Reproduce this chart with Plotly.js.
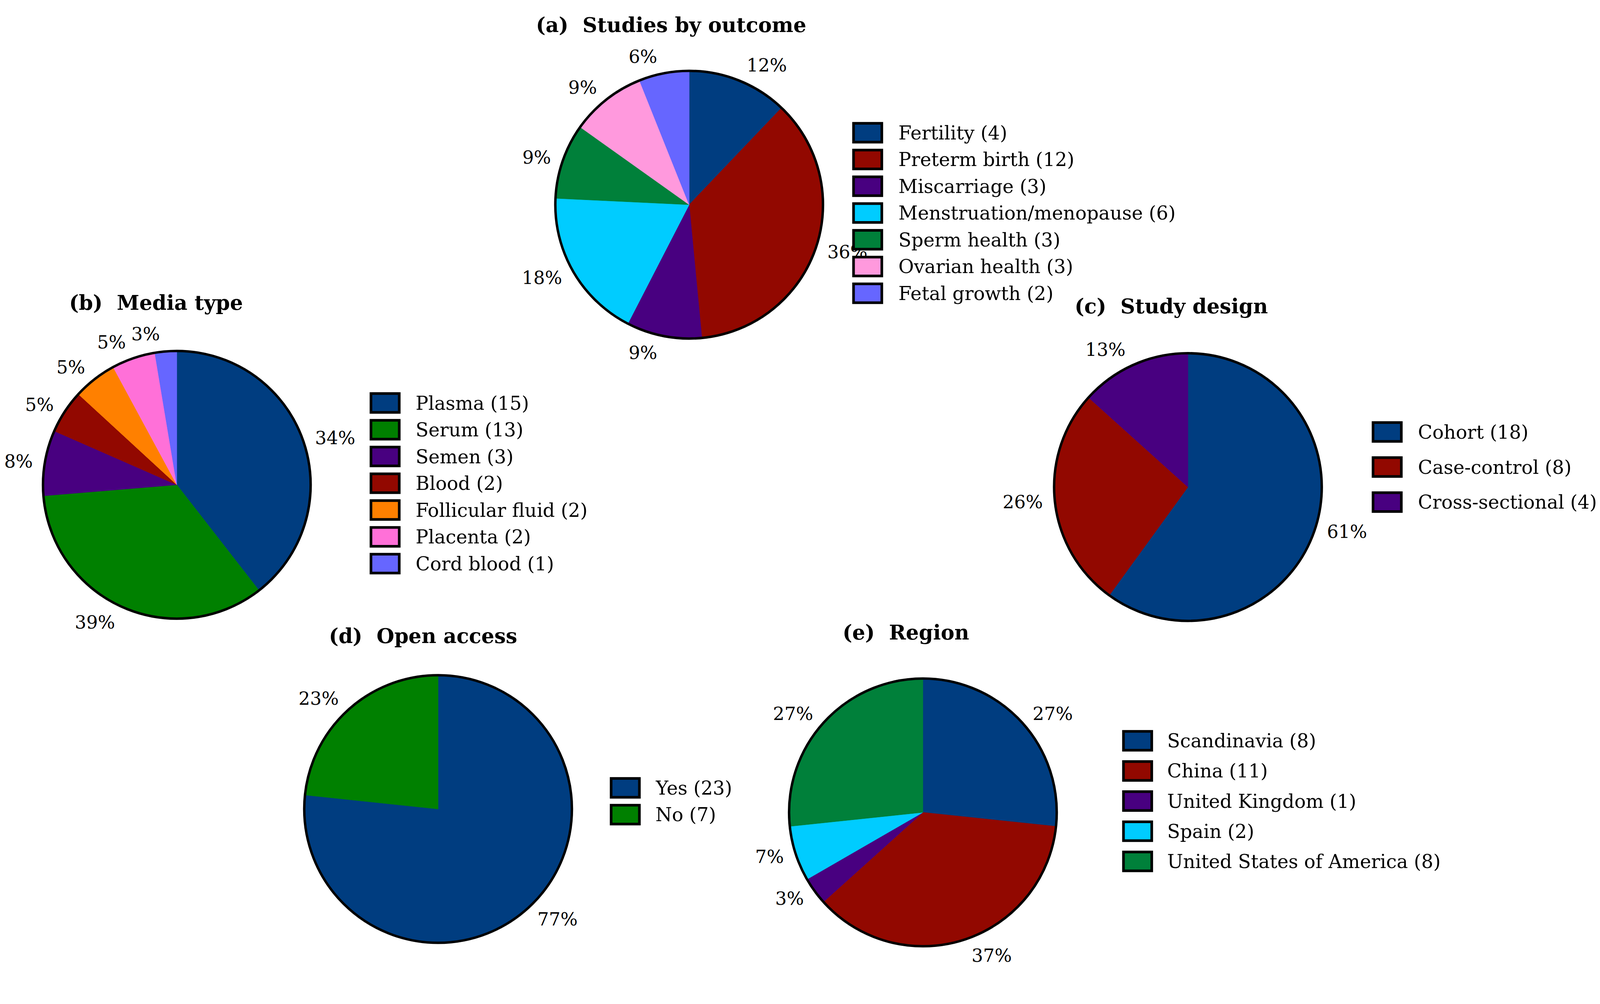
<!DOCTYPE html>
<html><head><meta charset="utf-8">
<script src="https://cdn.plot.ly/plotly-3.0.1.min.js"></script>
<style>html,body{margin:0;padding:0;background:#fff;overflow:hidden;}</style>
</head><body><div id="chart"></div>
<script>
// ---------------- DATA ----------------
const outcomeCats = ['Fertility', 'Preterm birth', 'Miscarriage', 'Menstruation/menopause', 'Sperm health', 'Ovarian health', 'Fetal growth'];
const outcomeCounts = [4, 12, 3, 6, 3, 3, 2];
const outcomePct = ['12%', '36%', '9%', '18%', '9%', '9%', '6%'];

const mediaCats = ['Plasma', 'Serum', 'Semen', 'Blood', 'Follicular fluid', 'Placenta', 'Cord blood'];
const mediaCounts = [15, 13, 3, 2, 2, 2, 1];
const mediaPct = ['34%', '39%', '8%', '5%', '5%', '5%', '3%'];

const designCats = ['Cohort', 'Case-control', 'Cross-sectional'];
const designCounts = [18, 8, 4];
const designPct = ['61%', '26%', '13%'];

const accessCats = ['Yes', 'No'];
const accessCounts = [23, 7];
const accessPct = ['77%', '23%'];

const regionCats = ['Scandinavia', 'China', 'United Kingdom', 'Spain', 'United States of America'];
const regionCounts = [8, 11, 1, 2, 8];
const regionPct = ['27%', '37%', '3%', '7%', '27%'];

// ---------------- STYLE ----------------
const BLUE = '#003d80', RED = '#920800', PURPLE = '#480080', CYAN = '#00ccff',
      GREEN1 = '#00803a', GREEN2 = '#008000', PINK1 = '#ff99dd', PINK2 = '#ff70d8',
      PERI = '#6666ff', ORANGE = '#ff8000';
const outcomeColors = [BLUE, RED, PURPLE, CYAN, GREEN1, PINK1, PERI];
const mediaColors = [BLUE, GREEN2, PURPLE, RED, ORANGE, PINK2, PERI];
const designColors = [BLUE, RED, PURPLE];
const accessColors = [BLUE, GREEN2];
const regionColors = [BLUE, RED, PURPLE, CYAN, GREEN1];

// reference frame (positions below are in this frame and scaled to the viewport)
const W = 4244, H = 2570, R = 355, RLAB = 373;
const s = Math.min(window.innerWidth / W, window.innerHeight / H) || 1;
const FONT = 'DejaVu Serif';
const LEG = 50 * s, PCT = 48 * s, TTL = 54 * s;
const BOXW = 75, BOXH = 50;

const panels = [
  {tag: '(a)', name: 'Studies by outcome', cats: outcomeCats, counts: outcomeCounts, pct: outcomePct, colors: outcomeColors,
   cx: 1828, cy: 543, tx: 1420, ty: 66, lx: 2264, ly: 352, step: 71, ltx: 2381},
  {tag: '(b)', name: 'Media type', cats: mediaCats, counts: mediaCounts, pct: mediaPct, colors: mediaColors,
   cx: 469, cy: 1286, tx: 181, ty: 803, lx: 984, ly: 1069, step: 71, ltx: 1100},
  {tag: '(c)', name: 'Study design', cats: designCats, counts: designCounts, pct: designPct, colors: designColors,
   cx: 3151, cy: 1292, tx: 2848, ty: 812, lx: 3642, ly: 1146, step: 93, ltx: 3759},
  {tag: '(d)', name: 'Open access', cats: accessCats, counts: accessCounts, pct: accessPct, colors: accessColors,
   cx: 1162, cy: 2146, tx: 870, ty: 1687, lx: 1621, ly: 2090, step: 71, ltx: 1737},
  {tag: '(e)', name: 'Region', cats: regionCats, counts: regionCounts, pct: regionPct, colors: regionColors,
   cx: 2448, cy: 2155, tx: 2233, ty: 1677, lx: 2980, ly: 1965, step: 80, ltx: 3094}
];

const px = x => x / W;
const py = y => 1 - y / H;

const traces = [], shapes = [], annotations = [];
panels.forEach(p => {
  // visible slices
  traces.push({
    type: 'pie', labels: p.cats, values: p.counts,
    textinfo: 'none', sort: false, direction: 'clockwise', rotation: 0,
    hoverinfo: 'skip', showlegend: false,
    marker: {colors: p.colors, line: {color: p.colors, width: 1 * s}},
    domain: {x: [px(p.cx - R), px(p.cx + R)], y: [py(p.cy + R), py(p.cy - R)]}
  });
  // percentage labels: one transparent overlay pie per label, slightly larger radius
  p.pct.forEach((t, i) => {
    traces.push({
      type: 'pie', labels: p.cats, values: p.counts,
      text: p.pct.map((v, j) => (j === i ? v : '')),
      textinfo: 'text', textposition: 'outside',
      sort: false, direction: 'clockwise', rotation: 0,
      hoverinfo: 'skip', showlegend: false,
      marker: {colors: p.cats.map(() => 'rgba(0,0,0,0)'), line: {width: 0}},
      outsidetextfont: {family: FONT, size: PCT, color: '#000'},
      textfont: {family: FONT, size: PCT, color: '#000'},
      domain: {x: [px(p.cx - RLAB), px(p.cx + RLAB)], y: [py(p.cy + RLAB), py(p.cy - RLAB)]}
    });
  });
  // outer rim
  shapes.push({type: 'circle', xref: 'paper', yref: 'paper',
    x0: px(p.cx - R), x1: px(p.cx + R), y0: py(p.cy + R), y1: py(p.cy - R),
    line: {color: '#000', width: 6.5 * s}, fillcolor: 'rgba(0,0,0,0)', layer: 'above'});
  // title
  annotations.push({xref: 'paper', yref: 'paper', x: px(p.tx), y: py(p.ty), xanchor: 'left', yanchor: 'middle',
    showarrow: false, text: '<b>' + p.tag + '\u00A0 ' + p.name + '</b>',
    font: {family: FONT, size: TTL, color: '#000'}});
  // legend
  p.cats.forEach((c, i) => {
    const yc = p.ly + i * p.step;
    shapes.push({type: 'rect', xref: 'paper', yref: 'paper',
      x0: px(p.lx), x1: px(p.lx + BOXW), y0: py(yc + BOXH / 2), y1: py(yc - BOXH / 2),
      fillcolor: p.colors[i], line: {color: '#000', width: 7 * s}});
    annotations.push({xref: 'paper', yref: 'paper', x: px(p.ltx), y: py(yc), xanchor: 'left', yanchor: 'middle',
      showarrow: false, text: c + ' (' + p.counts[i] + ')',
      font: {family: FONT, size: LEG, color: '#000'}});
  });
});

const div = document.getElementById('chart');
div.style.width = Math.floor(W * s) + 'px';
div.style.height = Math.floor(H * s) + 'px';
Plotly.newPlot(div, traces, {
  width: Math.floor(W * s), height: Math.floor(H * s),
  margin: {l: 0, r: 0, t: 0, b: 0, pad: 0},
  paper_bgcolor: '#fff', plot_bgcolor: '#fff',
  showlegend: false,
  shapes: shapes,
  annotations: annotations
}, {staticPlot: true});
</script></body></html>
